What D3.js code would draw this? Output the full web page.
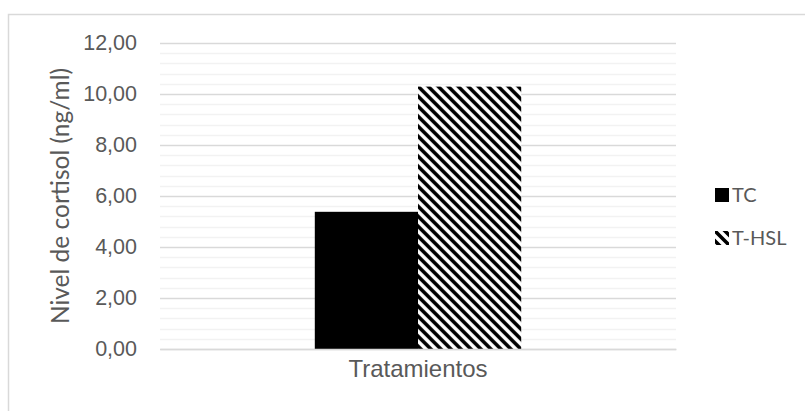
<!DOCTYPE html>
<html>
<head>
<meta charset="utf-8">
<script src="https://cdn.jsdelivr.net/npm/d3@7"></script>
<style>
  body { margin: 0; background: #fff; }
  svg { display: block; font-family: Lato, "Open Sans", sans-serif; }
</style>
</head>
<body>
<div id="chart"></div>
<script>
'use strict';

const categories = ['Tratamientos'];
const series = ['TC', 'T-HSL'];
const valuesTC = [5.38];
const valuesTHSL = [10.29];
const yTicks = [0, 2, 4, 6, 8, 10, 12];

const W = 805, H = 411;
const margin = {top: 43, right: 129, bottom: 62, left: 160};
const width = W - margin.left - margin.right;
const height = H - margin.top - margin.bottom;

const svg = d3.select('#chart')
    .append('svg')
    .attr('width', W)
    .attr('height', H);

// hatch pattern (wide downward diagonal)
const defs = svg.append('defs');
const pat = defs.append('pattern')
    .attr('id', 'hatch')
    .attr('patternUnits', 'userSpaceOnUse')
    .attr('width', 10)
    .attr('height', 10);
pat.append('rect').attr('width', 10).attr('height', 10).attr('fill', '#fff');
pat.append('path')
    .attr('d', 'M-2,-2 L12,12 M-2,8 L2,12 M8,-2 L12,2')
    .attr('stroke', '#000')
    .attr('stroke-width', 3.6);

// chart frame
svg.append('rect')
    .attr('x', 8.5).attr('y', 14.5)
    .attr('width', W + 20).attr('height', H + 20)
    .attr('fill', 'none')
    .attr('stroke', '#d9d9d9')
    .attr('stroke-width', 1.5);

const g = svg.append('g')
    .attr('transform', `translate(${margin.left}, ${margin.top})`);

const y = d3.scaleLinear().domain([0, 12]).range([height, 0]);
const x0 = d3.scaleBand().domain(categories).range([0, width]).paddingInner(0).paddingOuter(0);
const x1 = d3.scaleBand().domain(series).range([0, x0.bandwidth() * 0.4]).padding(0);
const groupOffset = x0.bandwidth() * 0.3;

// minor gridlines
const minor = d3.range(0, 12.001, 0.4).filter(v => Math.abs(v / 2 - Math.round(v / 2)) > 1e-6);
g.append('g').selectAll('line')
    .data(minor)
    .join('line')
      .attr('x1', 0).attr('x2', width)
      .attr('y1', d => Math.round(y(d)) + 0.5).attr('y2', d => Math.round(y(d)) + 0.5)
      .attr('stroke', '#f2f2f2')
      .attr('stroke-width', 1.5);

// y axis with major gridlines
const yAxis = d3.axisLeft(y)
    .tickValues(yTicks)
    .tickSize(-width)
    .tickPadding(23)
    .tickFormat(d => d3.format('.2f')(d).replace('.', ','));

g.append('g')
    .attr('class', 'y-axis')
    .call(yAxis)
    .call(a => a.select('.domain').remove())
    .call(a => a.selectAll('line').attr('stroke', '#d9d9d9').attr('stroke-width', 1.5))
    .call(a => a.selectAll('text')
        .attr('fill', '#595959')
        .style('font-size', '21.5px'));

// bars
const rows = categories.map((c, i) => ({cat: c, vals: [valuesTC[i], valuesTHSL[i]]}));
const grp = g.append('g').selectAll('g')
    .data(rows)
    .join('g')
      .attr('transform', d => `translate(${x0(d.cat) + groupOffset}, 0)`);

grp.selectAll('rect')
    .data(d => d.vals.map((v, j) => ({s: series[j], v})))
    .join('rect')
      .attr('x', d => x1(d.s))
      .attr('width', x1.bandwidth())
      .attr('y', d => y(d.v))
      .attr('height', d => y(0) - y(d.v))
      .attr('fill', d => d.s === 'TC' ? '#000' : 'url(#hatch)');

// x axis
const xAxis = d3.axisBottom(x0).tickSize(0).tickPadding(11);
g.append('g')
    .attr('class', 'x-axis')
    .attr('transform', `translate(0, ${height})`)
    .call(xAxis)
    .call(a => a.select('.domain').attr('stroke', '#d9d9d9').attr('stroke-width', 1.5))
    .call(a => a.selectAll('text')
        .attr('fill', '#595959')
        .style('font-size', '24px'));

// y axis title
svg.append('text')
    .attr('transform', `translate(69, ${margin.top + height / 2}) rotate(-90)`)
    .attr('text-anchor', 'middle')
    .attr('fill', '#595959')
    .style('font-size', '24.5px')
    .text('Nivel de cortisol (ng/ml)');

// legend
const legend = svg.append('g')
    .attr('transform', 'translate(715, 188)');
const li = legend.selectAll('g')
    .data(series)
    .join('g')
      .attr('transform', (d, i) => `translate(0, ${i * 43})`);
li.append('rect')
    .attr('width', 14).attr('height', 14)
    .attr('fill', d => d === 'TC' ? '#000' : 'url(#hatch)');
li.append('text')
    .attr('x', 17).attr('y', 14)
    .attr('fill', '#595959')
    .style('font-size', '20px')
    .text(d => d);
</script>
</body>
</html>
